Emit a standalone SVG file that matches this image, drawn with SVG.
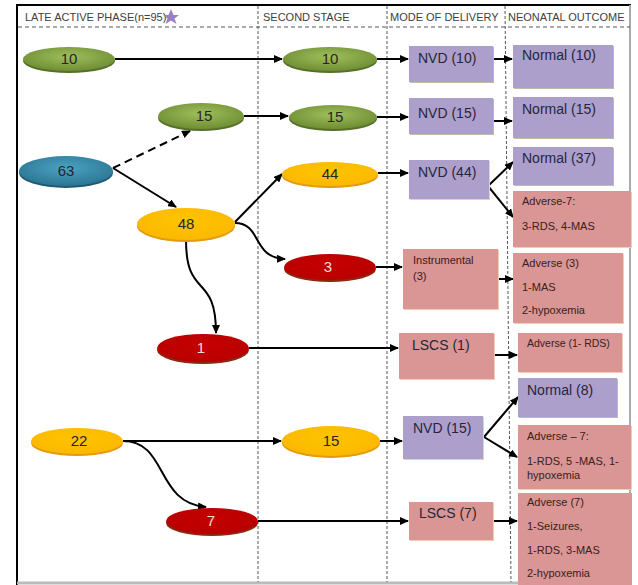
<svg xmlns="http://www.w3.org/2000/svg" width="638" height="585" viewBox="0 0 638 585">
<style>
text{font-family:"Liberation Sans",Arial,sans-serif}
.hdr{font-size:11px;fill:#404040}
.num{font-size:15px;fill:#262626;text-anchor:middle}
.numw{font-size:15px;fill:#f2dcdb;text-anchor:middle}
.bp{fill:#ad9fcc}
.br{fill:#d99694}
.shp{fill:#b9bfa6}
.shr{fill:#f4cdb0}
.t14{font-size:14px;fill:#26263a}
.t11{font-size:11px;fill:#3a2020}
.t10{font-size:10.5px;fill:#3a2020}
.c{stroke:#000;stroke-width:2;fill:none;marker-end:url(#ah)}
.div{stroke:#555;stroke-width:1;stroke-dasharray:3,2}
</style>
<defs>
<marker id="ah" markerUnits="userSpaceOnUse" markerWidth="9" markerHeight="8" refX="8" refY="4" orient="auto">
<path d="M0,0 L9,4 L0,8 z" fill="#000"/>
</marker>
<radialGradient id="gG" cx="50%" cy="40%" r="60%"><stop offset="0" stop-color="#9fbf5c"/><stop offset="1" stop-color="#6f8d33"/></radialGradient>
<radialGradient id="gB" cx="50%" cy="40%" r="60%"><stop offset="0" stop-color="#4aa3c2"/><stop offset="1" stop-color="#2c7593"/></radialGradient>
<radialGradient id="gY" cx="50%" cy="40%" r="60%"><stop offset="0" stop-color="#ffc400"/><stop offset="1" stop-color="#fbb800"/></radialGradient>
<radialGradient id="gR" cx="50%" cy="40%" r="60%"><stop offset="0" stop-color="#c60000"/><stop offset="1" stop-color="#b80000"/></radialGradient>
</defs>
<rect width="638" height="585" fill="#fff"/>
<!-- frame -->
<line x1="16" y1="5" x2="631" y2="5" stroke="#000" stroke-width="2"/>
<line x1="17" y1="5" x2="17" y2="585" stroke="#000" stroke-width="2"/>
<line x1="630" y1="5" x2="630" y2="585" stroke="#aaa" stroke-width="2"/>
<line x1="17" y1="583" x2="631" y2="583" stroke="#bbb" stroke-width="3"/>
<line x1="18" y1="27" x2="630" y2="27" stroke="#555" stroke-width="1" stroke-dasharray="4,3"/>
<line class="div" x1="258" y1="6" x2="258" y2="582"/>
<line class="div" x1="387" y1="6" x2="387" y2="582"/>
<line class="div" x1="505" y1="6" x2="511" y2="582"/>
<!-- header -->
<g id="header">
<text class="hdr" x="25" y="21">LATE ACTIVE PHASE(n=95)</text>
<path d="M171,9 L173.5,15 L179,15 L174.5,18.5 L176.5,24 L171,20.5 L165.5,24 L167.5,18.5 L163,15 L168.5,15 z" fill="#9b7fc4"/>
<text class="hdr" x="263" y="21">SECOND STAGE</text>
<text class="hdr" x="390" y="21">MODE OF DELIVERY</text>
<text class="hdr" x="508" y="21">NEONATAL OUTCOME</text>
</g>
<!-- connectors -->
<g id="connectors">
<line class="c" x1="115" y1="59" x2="282" y2="59"/>
<line class="c" x1="377" y1="59" x2="408" y2="59"/>
<line class="c" x1="493" y1="59" x2="512" y2="59"/>
<line class="c" x1="244" y1="116" x2="288" y2="116"/>
<line class="c" x1="377" y1="117" x2="408" y2="117"/>
<line class="c" x1="493" y1="121" x2="512" y2="121"/>
<line class="c" x1="113" y1="168" x2="190" y2="131" stroke-dasharray="8,5"/>
<line class="c" x1="113" y1="168" x2="176" y2="207"/>
<line class="c" x1="235" y1="222" x2="282" y2="174"/>
<path class="c" d="M235,223 C262,223 252,258 285,259"/>
<path class="c" d="M186,240 C186,300 216,272 216,333"/>
<line class="c" x1="378" y1="173" x2="408" y2="173"/>
<line class="c" x1="488" y1="186" x2="513" y2="162"/>
<line class="c" x1="488" y1="186" x2="513" y2="217"/>
<line class="c" x1="376" y1="267" x2="402" y2="267"/>
<line class="c" x1="498" y1="279" x2="513" y2="279"/>
<line class="c" x1="249" y1="348" x2="398" y2="348"/>
<line class="c" x1="494" y1="355" x2="517" y2="355"/>
<line class="c" x1="484" y1="437" x2="518" y2="397"/>
<line class="c" x1="484" y1="437" x2="517" y2="457"/>
<line class="c" x1="123" y1="441" x2="281" y2="441"/>
<line class="c" x1="380" y1="441" x2="402" y2="441"/>
<path class="c" d="M123,441 C168,441 155,503 206,507"/>
<line class="c" x1="258" y1="521" x2="408" y2="521"/>
<line class="c" x1="493" y1="521" x2="517" y2="521"/>
</g>
<!-- ellipse nodes -->
<g id="n10a"><ellipse cx="69" cy="61" rx="46" ry="12" fill="#56702a"/><ellipse cx="69" cy="59" rx="46" ry="12" fill="url(#gG)"/><text class="num" x="69" y="64">10</text></g>
<g id="n10b"><ellipse cx="330" cy="61" rx="47" ry="12" fill="#56702a"/><ellipse cx="330" cy="59" rx="47" ry="12" fill="url(#gG)"/><text class="num" x="330" y="64">10</text></g>
<g id="n15a"><ellipse cx="201" cy="118" rx="43" ry="13" fill="#56702a"/><ellipse cx="201" cy="116" rx="43" ry="13" fill="url(#gG)"/><text class="num" x="204" y="121">15</text></g>
<g id="n15b"><ellipse cx="333" cy="119" rx="44" ry="12" fill="#56702a"/><ellipse cx="333" cy="117" rx="44" ry="12" fill="url(#gG)"/><text class="num" x="335" y="122">15</text></g>
<g id="n63"><ellipse cx="66" cy="173" rx="47" ry="15" fill="#215a70"/><ellipse cx="66" cy="171" rx="47" ry="15" fill="url(#gB)"/><text class="num" x="66" y="176">63</text></g>
<g id="n48"><ellipse cx="186" cy="226" rx="49" ry="16" fill="#e39a10"/><ellipse cx="186" cy="224" rx="49" ry="16" fill="url(#gY)"/><text class="num" x="186" y="229">48</text></g>
<g id="n44"><ellipse cx="330" cy="176" rx="48" ry="12" fill="#e39a10"/><ellipse cx="330" cy="174" rx="48" ry="12" fill="url(#gY)"/><text class="num" x="330" y="179">44</text></g>
<g id="n3"><ellipse cx="330" cy="269" rx="46" ry="13" fill="#8a2a10"/><ellipse cx="330" cy="267" rx="46" ry="13" fill="url(#gR)"/><text class="numw" x="328" y="272">3</text></g>
<g id="n1"><ellipse cx="203" cy="350" rx="46" ry="14" fill="#8a2a10"/><ellipse cx="203" cy="348" rx="46" ry="14" fill="url(#gR)"/><text class="numw" x="201" y="353">1</text></g>
<g id="n22"><ellipse cx="77" cy="443" rx="46" ry="13" fill="#e39a10"/><ellipse cx="77" cy="441" rx="46" ry="13" fill="url(#gY)"/><text class="num" x="79" y="446">22</text></g>
<g id="n15c"><ellipse cx="331" cy="443" rx="49" ry="15" fill="#e39a10"/><ellipse cx="331" cy="441" rx="49" ry="15" fill="url(#gY)"/><text class="num" x="331" y="446">15</text></g>
<g id="n7"><ellipse cx="212" cy="523" rx="46" ry="13" fill="#8a2a10"/><ellipse cx="212" cy="521" rx="46" ry="13" fill="url(#gR)"/><text class="numw" x="211" y="526">7</text></g>
<!-- delivery boxes -->
<g id="nvd10"><rect class="shp" x="410" y="47" width="84" height="36"/><rect class="bp" x="409" y="46" width="84" height="36"/><text class="t14" x="418" y="63">NVD (10)</text></g>
<g id="nvd15"><rect class="shp" x="410" y="99" width="84" height="36"/><rect class="bp" x="409" y="98" width="84" height="36"/><text class="t14" x="418" y="118">NVD (15)</text></g>
<g id="nvd44"><rect class="shr" x="410" y="161" width="80" height="39"/><rect class="bp" x="409" y="160" width="80" height="39"/><text class="t14" x="418" y="177">NVD (44)</text></g>
<g id="instr"><rect class="shr" x="404" y="250" width="95" height="60"/><rect class="br" x="403" y="249" width="95" height="60"/><text class="t11" x="413" y="264">Instrumental</text><text class="t11" x="413" y="280">(3)</text></g>
<g id="lscs1"><rect class="shr" x="400" y="334" width="95" height="46"/><rect class="br" x="399" y="333" width="95" height="46"/><text class="t14" x="412" y="350">LSCS (1)</text></g>
<g id="nvd15b"><rect class="shr" x="404" y="417" width="80" height="43"/><rect class="bp" x="403" y="416" width="80" height="43"/><text class="t14" x="413" y="433">NVD (15)</text></g>
<g id="lscs7"><rect class="shr" x="410" y="503" width="84" height="38"/><rect class="br" x="409" y="502" width="84" height="38"/><text class="t14" x="419" y="518">LSCS (7)</text></g>
<!-- outcome boxes -->
<g id="norm10"><rect class="shp" x="514" y="46" width="100" height="43"/><rect class="bp" x="513" y="45" width="100" height="43"/><text class="t14" x="522" y="60">Normal (10)</text></g>
<g id="norm15"><rect class="shp" x="514" y="98" width="100" height="41"/><rect class="bp" x="513" y="97" width="100" height="41"/><text class="t14" x="522" y="114">Normal (15)</text></g>
<g id="norm37"><rect class="shp" x="514" y="148" width="100" height="38"/><rect class="bp" x="513" y="147" width="100" height="38"/><text class="t14" x="522" y="163">Normal (37)</text></g>
<g id="adv7a"><rect class="shr" x="514" y="192" width="118" height="56"/><rect class="br" x="513" y="191" width="118" height="56"/><text class="t11" x="522" y="205">Adverse-7:</text><text class="t11" x="522" y="230">3-RDS, 4-MAS</text></g>
<g id="adv3"><rect class="shr" x="514" y="254" width="110" height="70"/><rect class="br" x="513" y="253" width="110" height="70"/><text class="t11" x="522" y="267">Adverse (3)</text><text class="t11" x="522" y="291">1-MAS</text><text class="t11" x="522" y="314">2-hypoxemia</text></g>
<g id="adv1"><rect class="shr" x="519" y="334" width="104" height="39"/><rect class="br" x="518" y="333" width="104" height="39"/><text class="t10" x="527" y="347">Adverse (1- RDS)</text></g>
<g id="norm8"><rect class="shp" x="519" y="379" width="99" height="39"/><rect class="bp" x="518" y="378" width="99" height="39"/><text class="t14" x="527" y="395">Normal (8)</text></g>
<g id="adv7b"><rect class="shr" x="519" y="426" width="113" height="64"/><rect class="br" x="518" y="425" width="113" height="64"/><text class="t11" x="527" y="440">Adverse – 7:</text><text class="t11" x="527" y="465">1-RDS, 5 -MAS, 1-</text><text class="t11" x="527" y="479">hypoxemia</text></g>
<g id="adv7c"><rect class="br" x="518" y="493" width="114" height="92"/><text class="t11" x="527" y="506">Adverse (7)</text><text class="t11" x="527" y="530">1-Seizures,</text><text class="t11" x="527" y="554">1-RDS, 3-MAS</text><text class="t11" x="527" y="577">2-hypoxemia</text></g>
</svg>
